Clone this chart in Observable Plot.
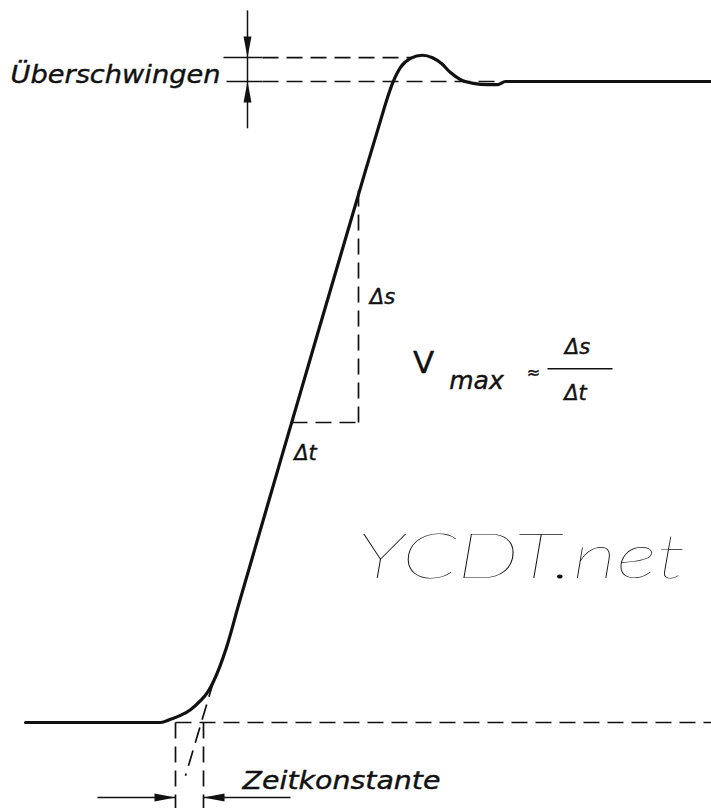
<!DOCTYPE html>
<html>
<head>
<meta charset="utf-8">
<script src="https://cdn.jsdelivr.net/npm/d3@7"></script>
<script src="https://cdn.jsdelivr.net/npm/@observablehq/plot@0.6"></script>
<style>
  html, body { margin: 0; padding: 0; background: #fff; }
  #chart svg { display: block; }
</style>
</head>
<body>
<div id="chart"></div>
<script>
// ---- Data (time t, level s: 0 = start level, 100 = final level) ----
const curveT = [25, 160, 170, 180, 190, 200, 207, 213, 219, 226, 238, 300, 365, 380, 386, 392, 400, 410, 422, 432, 441, 450, 460, 473, 487, 497, 505, 711];
const curveS = [0, 0, 0.5, 1.1, 2.0, 3.4, 4.7, 6.4, 8.6, 11.7, 18.3, 51.5, 86.1, 93.9, 97.0, 99.7, 102.2, 103.6, 104.1, 103.7, 102.8, 101.4, 100.3, 99.7, 99.5, 99.5, 100, 100];

const finalLevel = 100;
const overshootLevel = 103.74;
const startLevel = 0;

// tangent (max. velocity line) extension to the start level
const tangentT = [213, 185];
const tangentS = [6.4, -8.3];

// slope triangle
const triT = [291, 358];
const triS = [46.8, 83.0];

// time-constant markers
const tcT = [175, 203];
const tcArrowS = -11.7;
const tcArrowLeftStart = 97;
const tcArrowRightEnd = 290;

// overshoot dimension
const osT = 247;
const osS = [111.1, 92.7];

const labels = ["Überschwingen", "Zeitkonstante", "Δs", "Δt", "V", "max", "≈", "Δs", "Δt", "YCDT.net"];

// ---- Build tables ----
const curve = curveT.map((t, i) => ({t, s: curveS[i]}));
const segSolid = [
  {t1: osT, s1: osS[0], t2: osT, s2: osS[1]},
  {t1: 223, s1: overshootLevel, t2: 262, s2: overshootLevel},
  {t1: 226, s1: finalLevel, t2: 262, s2: finalLevel},
  {t1: tcArrowLeftStart, s1: tcArrowS, t2: tcT[0], s2: tcArrowS},
  {t1: tcT[1], s1: tcArrowS, t2: tcArrowRightEnd, s2: tcArrowS},
  {t1: 547, s1: 55.2, t2: 612, s2: 55.2}
];
const segDashed = [
  {t1: 262, s1: overshootLevel, t2: 412, s2: overshootLevel},
  {t1: 262, s1: finalLevel, t2: 498, s2: finalLevel},
  {t1: tcT[0], s1: startLevel, t2: 711, s2: startLevel},
  {t1: tcT[0], s1: startLevel, t2: tcT[0], s2: -13.4},
  {t1: tcT[1], s1: startLevel, t2: tcT[1], s2: -13.4},
  {t1: triT[1], s1: triS[1], t2: triT[1], s2: triS[0]},
  {t1: triT[0], s1: triS[0], t2: triT[1], s2: triS[0]},
  {t1: tangentT[0], s1: tangentS[0], t2: tangentT[1], s2: tangentS[1]}
];
const arrows = [
  {t: osT, s: overshootLevel, rot: 180},
  {t: osT, s: finalLevel, rot: 0},
  {t: tcT[0], s: tcArrowS, rot: 90},
  {t: tcT[1], s: tcArrowS, rot: 270}
];
const texts = [
  {t: 10, s: 99.8, text: labels[0], size: 25, style: "italic", anchor: "start", line: "bottom", len: 210},
  {t: 242, s: -10.3, text: labels[1], size: 24, style: "italic", anchor: "start", line: "bottom", len: 198},
  {t: 382, s: 66.3, text: labels[2], size: 21, style: "italic", anchor: "middle", line: "middle"},
  {t: 305, s: 42.0, text: labels[3], size: 21, style: "italic", anchor: "middle", line: "middle"},
  {t: 423, s: 56.0, text: labels[4], size: 31, style: "normal", anchor: "middle", line: "middle"},
  {t: 476, s: 53.3, text: labels[5], size: 25, style: "italic", anchor: "middle", line: "middle"},
  {t: 533, s: 54.6, text: labels[6], size: 16, style: "normal", anchor: "middle", line: "middle"},
  {t: 577, s: 58.6, text: labels[7], size: 21, style: "italic", anchor: "middle", line: "middle"},
  {t: 575, s: 51.3, text: labels[8], size: 21, style: "italic", anchor: "middle", line: "middle"}
];
const watermark = [{t: 357, s: 25.6, text: labels[9]}];

const arrowHead = {
  draw(ctx) {
    const L = 21, w = 4;
    ctx.moveTo(0, 0);
    ctx.lineTo(-w, L);
    ctx.lineTo(w, L);
    ctx.closePath();
  }
};

const ink = "#111";

const chart = Plot.plot({
  width: 711,
  height: 808,
  margin: 0,
  x: {domain: [0, 711], axis: null},
  y: {domain: [-13.42, 112.64], axis: null},
  style: {background: "#fff"},
  marks: [
    Plot.link(segDashed, {x1: "t1", y1: "s1", x2: "t2", y2: "s2", stroke: ink, strokeWidth: 1.7, strokeDasharray: "16,8"}),
    Plot.link(segSolid, {x1: "t1", y1: "s1", x2: "t2", y2: "s2", stroke: ink, strokeWidth: 1.5}),
    Plot.line(curve, {x: "t", y: "s", stroke: ink, strokeWidth: 3.2, curve: "monotone-x", strokeLinecap: "round"}),
    Plot.dot(arrows, {x: "t", y: "s", symbol: arrowHead, rotate: "rot", fill: ink, stroke: "none", r: 5}),
    ...texts.map(d => Plot.text([d], {
      x: "t", y: "s", text: "text", fontSize: d.size, fontStyle: d.style,
      textAnchor: d.anchor, lineAnchor: d.line, fill: ink, stroke: ink, strokeWidth: 0.4,
      fontFamily: "DejaVu Sans"
    })),
    Plot.text(watermark, {x: "t", y: "s", text: "text", fontSize: 62, textAnchor: "start", lineAnchor: "middle",
      fill: ink, fontFamily: "Lato, 'Open Sans', sans-serif", fontWeight: 200, fontStyle: "italic"})
  ]
});

// stretch the long labels to their drawn length
d3.select(chart).selectAll("text").each(function() {
  const txt = this.textContent;
  const item = texts.find(d => d.text === txt && d.len);
  if (item) {
    d3.select(this).attr("textLength", item.len).attr("lengthAdjust", "spacingAndGlyphs");
  }
  if (txt === labels[9]) {
    d3.select(this).attr("textLength", 328).attr("lengthAdjust", "spacingAndGlyphs");
  }
});

document.getElementById("chart").appendChild(chart);
</script>
</body>
</html>
